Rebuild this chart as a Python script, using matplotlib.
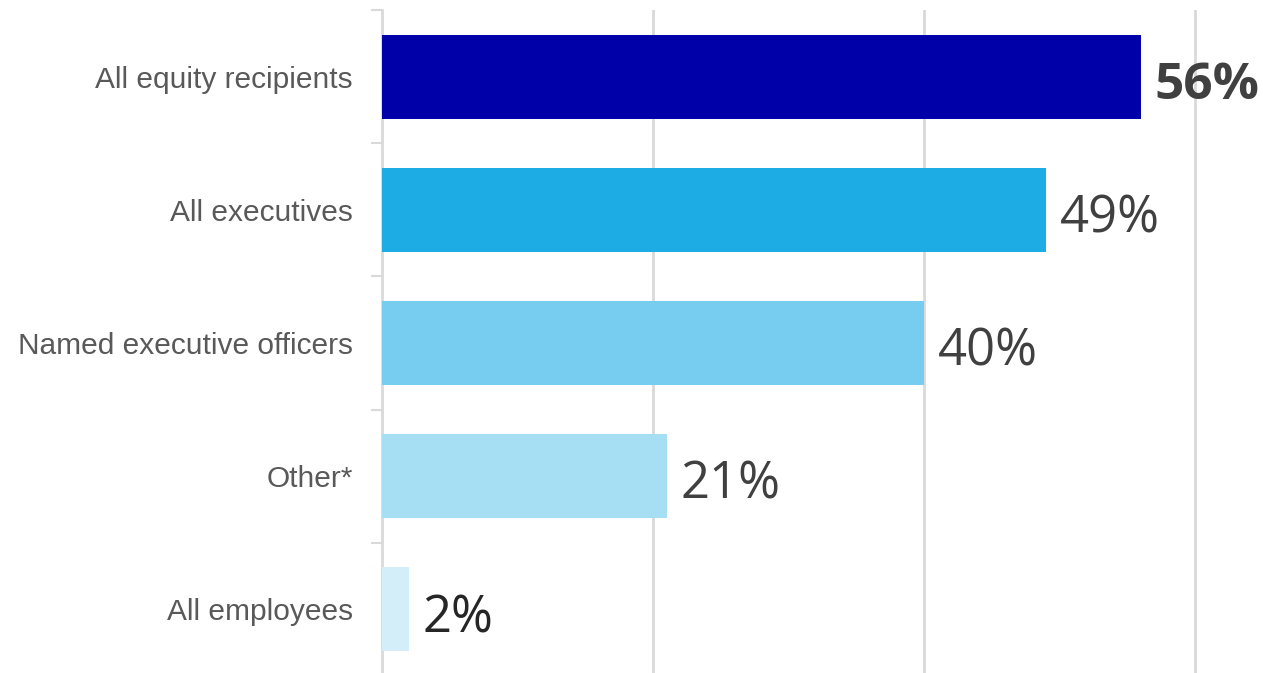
import matplotlib
matplotlib.use("Agg")
import matplotlib.pyplot as plt

categories = ["All equity recipients", "All executives", "Named executive officers",
              "Other*", "All employees"]
values = [56, 49, 40, 21, 2]
bar_colors = ["#0000A8", "#1DACE3", "#77CDF0", "#A6DEF3", "#D3EEF9"]
value_labels = ["56%", "49%", "40%", "21%", "2%"]

fig = plt.figure(figsize=(12.63, 6.73), dpi=100)
ax = fig.add_axes([382 / 1263, -3 / 673, 881 / 1263, 666 / 673])

y = list(range(len(categories)))
ax.barh(y, values, height=0.63, color=bar_colors, zorder=3)

ax.set_xlim(0, 65)
ax.set_ylim(len(categories) - 0.5, -0.5)

# vertical gridlines
ax.set_xticks([20, 40, 60])
ax.xaxis.grid(True, color="#d9d9d9", linewidth=2, zorder=0)
ax.tick_params(axis="x", length=0, labelbottom=False)

# category labels and separators on the y axis
ax.set_yticks(y)
ax.set_yticklabels(categories, family=["Liberation Sans", "DejaVu Sans"],
                   fontsize=21.5, color="#595959")
ax.tick_params(axis="y", which="major", length=0, pad=21)
ax.set_yticks([i - 0.5 for i in range(len(categories) + 1)], minor=True)
ax.tick_params(axis="y", which="minor", length=8, width=1.5, color="#d9d9d9")

for s in ["top", "right", "bottom"]:
    ax.spines[s].set_visible(False)
ax.spines["left"].set_color("#d9d9d9")
ax.spines["left"].set_linewidth(2)

for i, (v, lab) in enumerate(zip(values, value_labels)):
    ax.text(v + 1.0, i + 0.17, lab, va="baseline", ha="left",
            fontsize=37 if i == 0 else 36.5, family=["Open Sans", "DejaVu Sans"],
            fontweight="bold" if i == 0 else "normal",
            color="#404040" if i < 4 else "#262626", zorder=4)

fig.savefig("out.png", dpi=100)
